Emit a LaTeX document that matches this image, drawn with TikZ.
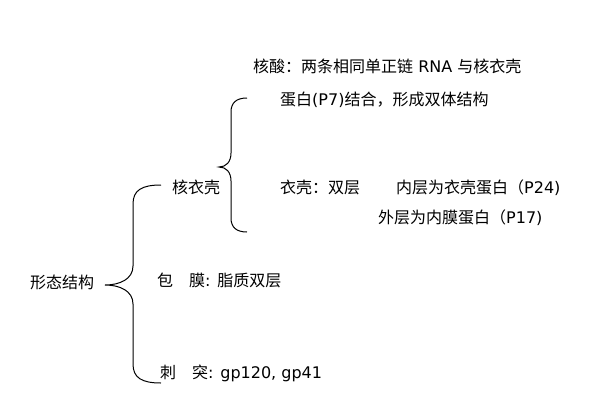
\documentclass[tikz,border=0pt]{standalone}
\usepackage{fontspec}
\setmainfont{Noto Sans CJK SC}
\newfontfamily\latf{DejaVu Sans}
\newcommand{\lt}[1]{{\latf #1}}
\tikzset{
  txt/.style={anchor=base west, inner sep=0pt, font=\fontsize{16}{19}\selectfont},
  brace/.style={draw=black, line width=1pt}
}
\begin{document}
\begin{tikzpicture}[x=1pt,y=-1pt]
\useasboundingbox[fill=white] (0,0) rectangle (604,407);
% texts (baseline = centre + 6)
\node[txt] (n1) at (253,72) {核酸：两条相同单正链\lt{ RNA }与核衣壳};
\node[txt] (n2) at (280,105) {蛋白\lt{(P7)}结合，形成双体结构};
\node[txt] (hyq) at (172,193) {核衣壳};
\node[txt] (yq) at (280,193) {衣壳：双层};
\node[txt] (nc) at (396,193) {内层为衣壳蛋白（\lt{P24)}};
\node[txt] (wc) at (378,223) {外层为内膜蛋白（\lt{P17)}};
\node[txt] (xt) at (30,288) {形态结构};
\node[txt] (bm) at (157,286) {包　膜\lt{: }脂质双层};
\node[txt] (ct) at (160,378) {刺　突\lt{: gp120, gp41}};
% big brace
\coordinate (bt) at (161,185);
\coordinate (btip) at (105,285);
\coordinate (bb) at (161,383);
\draw[brace] (bt) .. controls (142,185) and (133,190) .. (133,204)
  -- (133,266) .. controls (133,279) and (120,285) .. (btip)
  .. controls (120,285) and (133,291) .. (133,304)
  -- (133,364) .. controls (133,378) and (142,383) .. (bb);
% small brace
\coordinate (st) at (247,98);
\coordinate (stip) at (219,167);
\coordinate (sb) at (247,232);
\draw[brace] (st) .. controls (236,98) and (231,103) .. (231,112)
  -- (231,153) .. controls (231,162) and (226,167) .. (stip)
  .. controls (226,167) and (231,172) .. (231,181)
  -- (231,218) .. controls (231,227) and (236,232) .. (sb);
\end{tikzpicture}
\end{document}
